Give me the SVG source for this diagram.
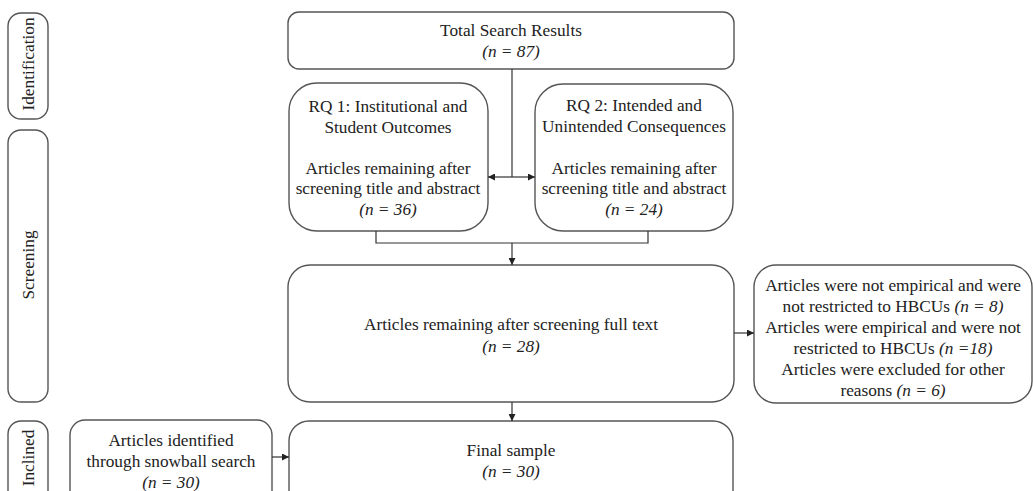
<svg xmlns="http://www.w3.org/2000/svg" width="1033" height="491" viewBox="0 0 1033 491">
<defs>
<marker id="ah" viewBox="0 0 10 10" refX="10" refY="5" markerWidth="7" markerHeight="7" markerUnits="userSpaceOnUse" orient="auto-start-reverse">
<path d="M0,0 L10,5 L0,10 z" fill="#222"/>
</marker>
<style>
.b{fill:#fff;stroke:#555;stroke-width:1.4}
.t{font-family:"Liberation Serif","Times New Roman",serif;font-size:17.3px;fill:#222;text-anchor:middle}
.i{font-style:italic}
.c{fill:none;stroke:#333;stroke-width:1.2}
</style>
</defs>
<rect width="1033" height="491" fill="#fff"/>
<g id="stage-identification">
<rect class="b" x="8" y="13" width="40" height="106" rx="13"/>
<text class="t" transform="translate(34,64) rotate(-90)">Identification</text>
</g>
<g id="stage-screening">
<rect class="b" x="8" y="130" width="40" height="272" rx="13"/>
<text class="t" transform="translate(34,265) rotate(-90)">Screening</text>
</g>
<g id="stage-inclined">
<rect class="b" x="8" y="421" width="40" height="90" rx="13"/>
<text class="t" transform="translate(34,458) rotate(-90)">Inclined</text>
</g>
<g id="total">
<rect class="b" x="288" y="12" width="446" height="57" rx="11"/>
<text class="t" x="511" y="36">Total Search Results</text>
<text class="t i" x="511" y="57">(n = 87)</text>
</g>
<g id="rq1">
<rect class="b" x="289" y="83" width="199" height="148" rx="28"/>
<text class="t" x="388" y="112">RQ 1: Institutional and</text>
<text class="t" x="388" y="133">Student Outcomes</text>
<text class="t" x="388" y="174">Articles remaining after</text>
<text class="t" x="388" y="194">screening title and abstract</text>
<text class="t i" x="388" y="215">(n = 36)</text>
</g>
<g id="rq2">
<rect class="b" x="535" y="84" width="198" height="147" rx="28"/>
<text class="t" x="634" y="111">RQ 2: Intended and</text>
<text class="t" x="634" y="132">Unintended Consequences</text>
<text class="t" x="634" y="174">Articles remaining after</text>
<text class="t" x="634" y="194">screening title and abstract</text>
<text class="t i" x="634" y="215">(n = 24)</text>
</g>
<g id="fulltext">
<rect class="b" x="288" y="265" width="446" height="137" rx="22"/>
<text class="t" x="511" y="330">Articles remaining after screening full text</text>
<text class="t i" x="511" y="352">(n = 28)</text>
</g>
<g id="excluded">
<rect class="b" x="754" y="265" width="278" height="138" rx="22"/>
<text class="t" x="893" y="291">Articles were not empirical and were</text>
<text class="t" x="893" y="312">not restricted to HBCUs <tspan class="i">(n = 8)</tspan></text>
<text class="t" x="893" y="333">Articles were empirical and were not</text>
<text class="t" x="893" y="354">restricted to HBCUs <tspan class="i">(n =18)</tspan></text>
<text class="t" x="893" y="375">Articles were excluded for other</text>
<text class="t" x="893" y="396">reasons <tspan class="i">(n = 6)</tspan></text>
</g>
<g id="snowball">
<rect class="b" x="70" y="420" width="202" height="90" rx="15"/>
<text class="t" x="171" y="446">Articles identified</text>
<text class="t" x="171" y="467">through snowball search</text>
<text class="t i" x="171" y="488">(n = 30)</text>
</g>
<g id="final">
<rect class="b" x="289" y="421" width="444" height="90" rx="20"/>
<text class="t" x="511" y="456">Final sample</text>
<text class="t i" x="511" y="477">(n = 30)</text>
</g>
<g id="connectors">
<line class="c" x1="512" y1="69" x2="512" y2="177"/>
<line class="c" x1="512" y1="177" x2="488" y2="177" marker-end="url(#ah)"/>
<line class="c" x1="512" y1="177" x2="535" y2="177" marker-end="url(#ah)"/>
<polyline class="c" points="376,231 376,243 648,243 648,231"/>
<line class="c" x1="512" y1="243" x2="512" y2="265" marker-end="url(#ah)"/>
<line class="c" x1="734" y1="333" x2="754" y2="333" marker-end="url(#ah)"/>
<line class="c" x1="512" y1="402" x2="512" y2="421" marker-end="url(#ah)"/>
<line class="c" x1="272" y1="457" x2="289" y2="457" marker-end="url(#ah)"/>
</g>
</svg>
